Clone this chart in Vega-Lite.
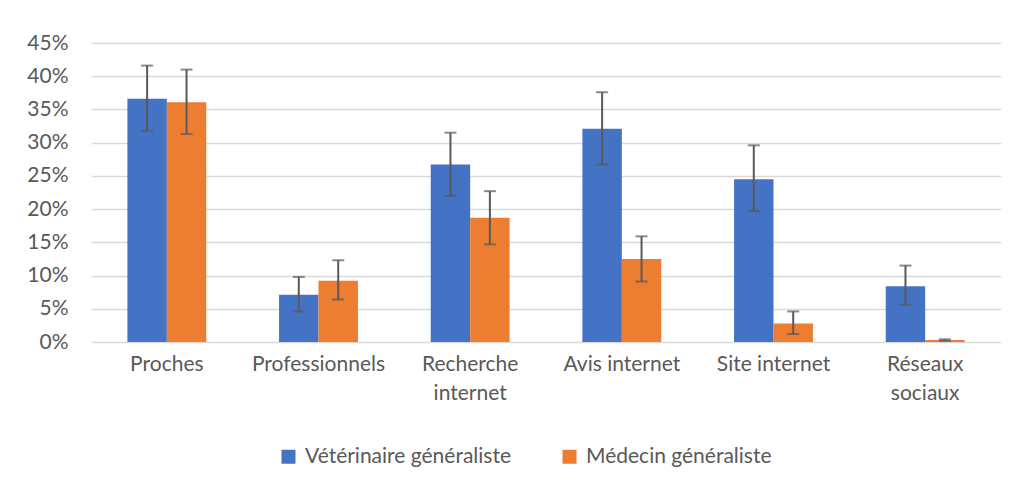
{
  "$schema": "https://vega.github.io/schema/vega-lite/v6.json",
  "autosize": "none",
  "width": 910,
  "height": 299,
  "padding": {"left": 91, "top": 43, "right": 15, "bottom": 144},
  "background": "white",
  "config": {
    "font": "Lato",
    "view": {"stroke": null},
    "axisY": {
      "title": null,
      "labelOverlap": false,
      "labelFlush": false,
      "domain": false,
      "ticks": false,
      "gridColor": "#d9d9d9",
      "gridWidth": 1.5,
      "labelFontSize": 21,
      "labelColor": "#595959",
      "labelPadding": 23
    }
  },
  "data": {
    "values": [
      {"cat": "Proches", "series": "Vétérinaire généraliste", "value": 36.6, "low": 31.8, "high": 41.6},
      {"cat": "Proches", "series": "Médecin généraliste", "value": 36.1, "low": 31.3, "high": 41.0},
      {"cat": "Professionnels", "series": "Vétérinaire généraliste", "value": 7.1, "low": 4.6, "high": 9.8},
      {"cat": "Professionnels", "series": "Médecin généraliste", "value": 9.2, "low": 6.4, "high": 12.3},
      {"cat": "Recherche internet", "series": "Vétérinaire généraliste", "value": 26.7, "low": 22.0, "high": 31.5},
      {"cat": "Recherche internet", "series": "Médecin généraliste", "value": 18.7, "low": 14.7, "high": 22.7},
      {"cat": "Avis internet", "series": "Vétérinaire généraliste", "value": 32.1, "low": 26.7, "high": 37.6},
      {"cat": "Avis internet", "series": "Médecin généraliste", "value": 12.5, "low": 9.1, "high": 15.9},
      {"cat": "Site internet", "series": "Vétérinaire généraliste", "value": 24.5, "low": 19.7, "high": 29.6},
      {"cat": "Site internet", "series": "Médecin généraliste", "value": 2.8, "low": 1.2, "high": 4.6},
      {"cat": "Réseaux sociaux", "series": "Vétérinaire généraliste", "value": 8.4, "low": 5.6, "high": 11.5},
      {"cat": "Réseaux sociaux", "series": "Médecin généraliste", "value": 0.3, "low": 0.2, "high": 0.4}
    ]
  },
  "encoding": {
    "x": {
      "field": "cat",
      "type": "nominal",
      "sort": null,
      "scale": {"paddingInner": 0.48, "paddingOuter": 0.24},
      "axis": {
        "title": null,
        "labelAngle": 0,
        "domain": false,
        "ticks": false,
        "labelFontSize": 21,
        "labelColor": "#595959",
        "labelPadding": 11,
        "labelLineHeight": 29,
        "labelBaseline": "top",
        "labelLimit": 0,
        "labelExpr": "datum.label == 'Recherche internet' ? ['Recherche', 'internet'] : datum.label == 'Réseaux sociaux' ? ['Réseaux', 'sociaux'] : datum.label"
      }
    },
    "xOffset": {
      "field": "series",
      "type": "nominal",
      "sort": ["Vétérinaire généraliste", "Médecin généraliste"],
      "scale": {"paddingInner": 0, "paddingOuter": 0}
    }
  },
  "layer": [
    {
      "mark": {"type": "bar"},
      "encoding": {
        "y": {
          "field": "value",
          "type": "quantitative",
          "scale": {"domain": [0, 45], "nice": false},
          "axis": {"title": null, "values": [0, 5, 10, 15, 20, 25, 30, 35, 40, 45], "labelExpr": "datum.value + '%'"}
        },
        "color": {
          "field": "series",
          "type": "nominal",
          "scale": {"domain": ["Vétérinaire généraliste", "Médecin généraliste"], "range": ["#4472C4", "#ED7D31"]},
          "legend": {
            "title": null,
            "orient": "none",
            "direction": "horizontal",
            "legendX": 187,
            "legendY": 403,
            "symbolType": "square",
            "symbolSize": 196,
            "symbolStrokeWidth": 0,
            "labelFontSize": 21,
            "labelColor": "#595959",
            "labelLimit": 0,
            "labelOffset": 6,
            "columnPadding": 48
          }
        }
      }
    },
    {
      "mark": {"type": "rule", "color": "#595959", "strokeWidth": 2},
      "encoding": {
        "y": {"field": "low", "type": "quantitative", "scale": {"domain": [0, 45], "nice": false}, "axis": {"title": null, "values": [0, 5, 10, 15, 20, 25, 30, 35, 40, 45], "labelExpr": "datum.value + '%'"}},
        "y2": {"field": "high"}
      }
    },
    {
      "mark": {"type": "tick", "color": "#595959", "thickness": 2, "size": 12},
      "encoding": {
        "y": {"field": "low", "type": "quantitative", "scale": {"domain": [0, 45], "nice": false}, "axis": {"title": null, "values": [0, 5, 10, 15, 20, 25, 30, 35, 40, 45], "labelExpr": "datum.value + '%'"}}
      }
    },
    {
      "mark": {"type": "tick", "color": "#595959", "thickness": 2, "size": 12},
      "encoding": {
        "y": {"field": "high", "type": "quantitative", "scale": {"domain": [0, 45], "nice": false}, "axis": {"title": null, "values": [0, 5, 10, 15, 20, 25, 30, 35, 40, 45], "labelExpr": "datum.value + '%'"}}
      }
    }
  ]
}
